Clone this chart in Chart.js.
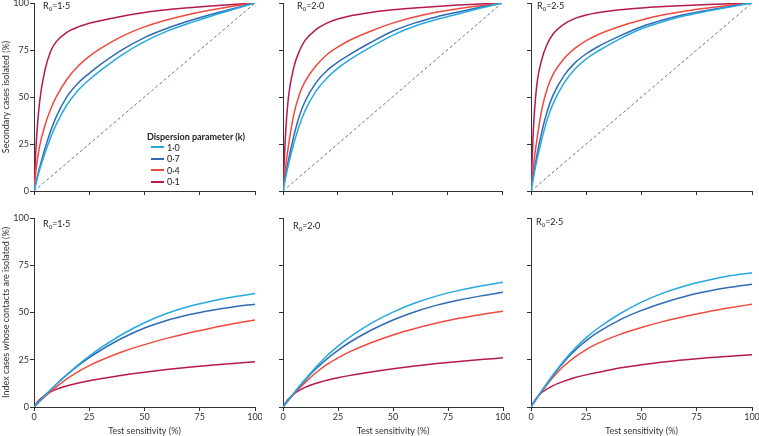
<!DOCTYPE html>
<html>
<head>
<meta charset="utf-8">
<script src="https://cdn.jsdelivr.net/npm/chart.js@4/dist/chart.umd.min.js"></script>
<style>
	body { margin: 0; background: #fff; }
	#wrap { position: relative; width: 759px; height: 436px; overflow: hidden; font-family: Lato, "Open Sans", sans-serif; color: #222; }
	#wrap canvas { position: absolute; }
	.r0 { position: absolute; font-size: 9px; line-height: 11px; white-space: nowrap; }
	.r0 sub { font-size: 6px; vertical-align: -2px; line-height: 0; }
	#legend { position: absolute; left: 147px; top: 131px; font-size: 9px; line-height: 11.5px; white-space: nowrap; }
	#legend .ttl { font-weight: 700; margin-bottom: -1px; }
	#legend .row { padding-left: 4px; }
	#legend .sw { display: inline-block; width: 13px; height: 2px; vertical-align: middle; margin-right: 3px; position: relative; top: -1px; }
</style>
</head>
<body>
<div id="wrap">
	<canvas id="c1" width="262" height="210" style="left:0;top:-5px"></canvas>
	<canvas id="c2" width="248" height="210" style="left:262px;top:-5px"></canvas>
	<canvas id="c3" width="249" height="210" style="left:510px;top:-5px"></canvas>
	<canvas id="c4" width="262" height="231" style="left:0;top:205px"></canvas>
	<canvas id="c5" width="248" height="231" style="left:262px;top:205px"></canvas>
	<canvas id="c6" width="249" height="231" style="left:510px;top:205px"></canvas>

	<div class="r0" style="left:43px;top:0px">R<sub>0</sub>=1·5</div>
	<div class="r0" style="left:297px;top:0px">R<sub>0</sub>=2·0</div>
	<div class="r0" style="left:537px;top:0px">R<sub>0</sub>=2·5</div>
	<div class="r0" style="left:43px;top:218px">R<sub>0</sub>=1·5</div>
	<div class="r0" style="left:293px;top:220px">R<sub>0</sub>=2·0</div>
	<div class="r0" style="left:536px;top:216px">R<sub>0</sub>=2·5</div>

	<div id="legend"></div>
</div>
<script>
// dispersion parameter (k) values, legend order
const kLabels = ['1·0', '0·7', '0·4', '0·1'];
const kColors = ['#27a9e0', '#2e6bb4', '#f04a3e', '#b5194f'];

const yTicks = [0, 25, 50, 75, 100];
const xTicks = [0, 25, 50, 75, 100];

// reference line (secondary cases isolated = test sensitivity)
const diagX = [0, 100];
const diagY = [0, 100];

// ---- top row: secondary cases isolated (%) ----
const sensTop = [0, 1, 2.5, 5, 7.5, 10, 15, 20, 25, 30, 40, 50, 60, 70, 80, 90, 100];

const sec15k10 = [0, 4.5, 11.2, 20.3, 28.4, 35.3, 46, 53.6, 59.2, 64, 72.6, 79.5, 84.9, 89.2, 93, 96.5, 100];
const sec15k07 = [0, 5.1, 12.2, 22.8, 31.8, 39.3, 50.3, 57.4, 62.6, 67.2, 75.2, 81.6, 86.4, 90.4, 93.9, 97, 100];
const sec15k04 = [0, 12, 23.6, 35.1, 43.4, 49.9, 59.6, 66.5, 71.6, 75.7, 82.4, 87.3, 91, 93.9, 96.3, 98.3, 100];
const sec15k01 = [0, 25, 47, 64.5, 74.2, 79.3, 84.5, 87.3, 89.2, 90.6, 93, 95, 96.4, 97.5, 98.4, 99.2, 100];

const sec20k10 = [0, 6, 14, 25.5, 35, 42.5, 53, 60, 65.2, 69.5, 76.5, 82.8, 87.6, 91.2, 94.2, 97.2, 100];
const sec20k07 = [0, 7, 16.5, 29.5, 40, 47.5, 57.5, 64, 68.5, 72.3, 79, 85, 89.3, 92.6, 95.2, 97.7, 100];
const sec20k04 = [0, 11, 24, 41, 51.5, 58, 66.5, 72.5, 76.5, 79.9, 85, 89.3, 92.6, 95.1, 97, 98.6, 100];
const sec20k01 = [0, 27, 50, 66, 74.5, 80, 85.8, 89.3, 91.5, 93, 95, 96.4, 97.4, 98.2, 98.9, 99.5, 100];

const sec25k10 = [0, 6.5, 15.5, 28, 38.5, 46.5, 57.5, 65, 70.3, 74.2, 80.8, 86.3, 90.2, 93.3, 95.7, 97.9, 100];
const sec25k07 = [0, 7.5, 18, 32, 43, 51, 61.5, 68.3, 73, 76.6, 82.4, 87.4, 91.1, 94, 96.2, 98.2, 100];
const sec25k04 = [0, 12, 26, 44, 55, 62, 70.5, 76, 80, 83, 87.5, 91, 93.7, 95.8, 97.4, 98.8, 100];
const sec25k01 = [0, 31, 55, 70.5, 78.5, 83.5, 88.8, 91.8, 93.6, 94.8, 96.4, 97.4, 98.1, 98.7, 99.2, 99.6, 100];

// ---- bottom row: index cases whose contacts are isolated (%) ----
const sensBottom = [0, 2, 5, 10, 15, 20, 25, 30, 40, 50, 60, 70, 80, 90, 100];

const idx15k10 = [0, 2.5, 6.2, 11.9, 17.3, 22.3, 26.9, 31.1, 38.5, 44.6, 49.5, 53.2, 56, 58.2, 60];
const idx15k07 = [0, 2.5, 6.1, 11.9, 17.1, 21.9, 26.1, 29.9, 36.5, 41.8, 45.8, 48.8, 51.1, 52.9, 54.4];
const idx15k04 = [0, 2.35, 5.6, 10.5, 15, 18.7, 21.9, 24.6, 29.2, 33, 36.3, 39.2, 41.7, 44, 46];
const idx15k01 = [0, 3.3, 6.3, 9.3, 11.2, 12.7, 13.9, 14.9, 16.8, 18.4, 19.8, 21, 22.1, 23, 23.9];

const idx20k10 = [0, 3, 7.4, 14.5, 21.1, 27.1, 32.2, 36.7, 44.2, 50.2, 55, 58.8, 61.7, 64, 66];
const idx20k07 = [0, 3, 7.3, 14.1, 20.2, 25.5, 30, 34, 40.6, 46, 50.4, 53.9, 56.6, 58.8, 60.7];
const idx20k04 = [0, 2.85, 6.9, 12.9, 18.1, 22.5, 26, 29, 34, 38.1, 41.5, 44.4, 46.9, 48.9, 50.7];
const idx20k01 = [0, 3.6, 7, 10.4, 12.6, 14.2, 15.5, 16.6, 18.5, 20.2, 21.7, 23, 24.1, 25.1, 26];

const idx25k10 = [0, 3.6, 8.8, 17.1, 24.6, 31.2, 36.7, 41.4, 49.2, 55.5, 60.4, 64.2, 67.1, 69.4, 71];
const idx25k07 = [0, 3.6, 8.7, 16.8, 24, 30.1, 35.1, 39.3, 46, 51.1, 55.2, 58.6, 61.2, 63.3, 64.9];
const idx25k04 = [0, 3.45, 8.4, 15.8, 21.8, 26.5, 30.4, 33.5, 38.3, 42.1, 45.3, 48, 50.4, 52.5, 54.4];
const idx25k01 = [0, 4, 7.8, 11.3, 13.7, 15.6, 17, 18.2, 20.6, 22.3, 23.8, 25, 26, 26.9, 27.6];

const FONT = 'Lato, "Open Sans", sans-serif';
const AXIS = '#333';

// one panel = one chart; axis sizes are pinned so the plot areas line up
function makePanel(id, xs, series, o) {
	const datasets = [];
	if (o.diag) {
		datasets.push({
			data: diagX.map((x, i) => ({ x: x, y: diagY[i] })),
			borderColor: '#58798a', borderWidth: 1, borderDash: [3, 2.5],
			pointRadius: 0, order: 10
		});
	}
	series.forEach((ys, i) => {
		datasets.push({
			data: xs.map((x, j) => ({ x: x, y: ys[j] })),
			borderColor: kColors[i], borderWidth: 1.5,
			pointRadius: 0, cubicInterpolationMode: 'monotone', order: i
		});
	});

	const tickFont = { family: FONT, size: 9 };

	new Chart(document.getElementById(id), {
		type: 'line',
		data: { datasets: datasets },
		options: {
			responsive: false,
			animation: false,
			events: [],
			layout: { padding: { top: o.padTop, right: o.padRight, left: 0, bottom: 0 } },
			plugins: { legend: { display: false }, tooltip: { enabled: false } },
			scales: {
				x: {
					type: 'linear', min: 0, max: 100,
					afterBuildTicks: s => { s.ticks = xTicks.map(v => ({ value: v })); },
					afterFit: s => { s.height = o.xH; s.paddingLeft = 0; s.paddingRight = 0; },
					grid: { drawOnChartArea: false, tickLength: 4, tickColor: AXIS, tickWidth: 1 },
					border: { color: AXIS, width: 1 },
					ticks: { display: o.xLabels, padding: 1, color: '#333', font: tickFont, maxRotation: 0 },
					title: { display: o.xLabels, text: 'Test sensitivity (%)', color: '#333', font: { family: FONT, size: 9 }, padding: 0 }
				},
				y: {
					type: 'linear', min: 0, max: 100,
					afterBuildTicks: s => { s.ticks = yTicks.map(v => ({ value: v })); },
					afterFit: s => { s.width = o.yW; s.paddingTop = 0; s.paddingBottom = 0; },
					grid: { drawOnChartArea: false, tickLength: 4, tickColor: AXIS, tickWidth: 1 },
					border: { color: AXIS, width: 1 },
					ticks: { display: !!o.yTitle, padding: 1, color: '#333', font: tickFont },
					title: { display: !!o.yTitle, text: o.yTitle || '', color: '#333', font: { family: FONT, size: 9 }, padding: { top: 1 } }
				}
			}
		}
	});
}

const topRow = { diag: true, xLabels: false, padTop: 8, xH: 14 };
const botRow = { diag: false, xLabels: true, padTop: 13, xH: 29 };

makePanel('c1', sensTop, [sec15k10, sec15k07, sec15k04, sec15k01], Object.assign({}, topRow, { yW: 34, padRight: 7, yTitle: 'Secondary cases isolated (%)' }));
makePanel('c2', sensTop, [sec20k10, sec20k07, sec20k04, sec20k01], Object.assign({}, topRow, { yW: 21, padRight: 8 }));
makePanel('c3', sensTop, [sec25k10, sec25k07, sec25k04, sec25k01], Object.assign({}, topRow, { yW: 21, padRight: 7 }));
makePanel('c4', sensBottom, [idx15k10, idx15k07, idx15k04, idx15k01], Object.assign({}, botRow, { yW: 34, padRight: 7, yTitle: 'Index cases whose contacts are isolated (%)' }));
makePanel('c5', sensBottom, [idx20k10, idx20k07, idx20k04, idx20k01], Object.assign({}, botRow, { yW: 21, padRight: 7 }));
makePanel('c6', sensBottom, [idx25k10, idx25k07, idx25k04, idx25k01], Object.assign({}, botRow, { yW: 21, padRight: 7 }));

// legend sits inside the first panel
const legend = document.getElementById('legend');
let html = '<div class="ttl">Dispersion parameter (k)</div>';
kLabels.forEach((lab, i) => {
	html += '<div class="row"><span class="sw" style="background:' + kColors[i] + '"></span>' + lab + '</div>';
});
legend.innerHTML = html;
</script>
</body>
</html>
